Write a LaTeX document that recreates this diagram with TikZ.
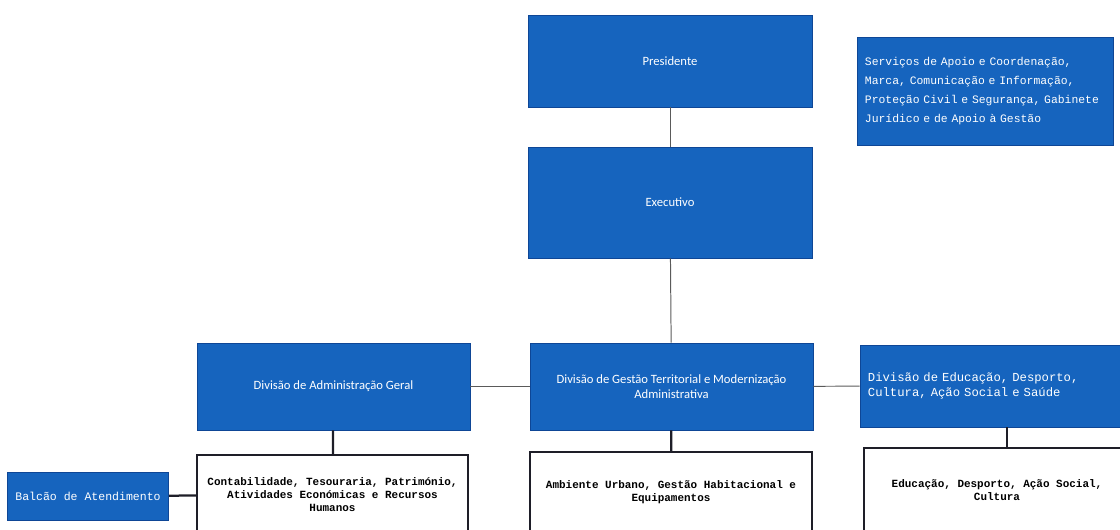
\documentclass[tikz,border=0pt]{standalone}
\usepackage{fontspec}
\setmainfont{Carlito}
\setmonofont{Liberation Mono}
\usepackage{tikz}

\definecolor{orgblue}{RGB}{22,100,190}
\definecolor{orgedge}{RGB}{14,70,150}
\definecolor{orgline}{RGB}{90,90,90}
\definecolor{orgdark}{RGB}{30,30,40}

\tikzset{
  bluebox/.style={draw=orgedge, fill=orgblue, line width=0.6pt, text=white,
    font=\fontsize{9}{11}\selectfont, align=center},
  bluemono/.style={draw=orgedge, fill=orgblue, line width=0.6pt, text=white,
    font=\ttfamily\fontsize{8.1}{13.5}\selectfont, align=left, inner xsep=0.2cm},
  whitebox/.style={draw=orgdark, fill=white, line width=1.2pt, text=black,
    font=\ttfamily\bfseries\fontsize{7.8}{9.2}\selectfont, align=center},
  thinlink/.style={draw=orgline, line width=0.7pt},
  thicklink/.style={draw=orgdark, line width=1.6pt}
}

\begin{document}
\begin{tikzpicture}[x=0.025cm, y=-0.025cm]
    \useasboundingbox (0,0) rectangle (1120,530);

    % Draw the top of the chart
    \node[bluebox, minimum width=7.1cm, minimum height=2.3cm] (pres) at (670,61) {Presidente};
    \node[bluebox, minimum width=7.1cm, minimum height=2.775cm] (exec) at (670,202.5) {Executivo};
    \node[bluemono, text width=6.0cm, minimum height=2.7cm] (serv) at (985,91)
        {Serviços de Apoio e Coordenação,\\Marca, Comunicação e Informação,\\Proteção Civil e Segurança, Gabinete\\Jurídico e de Apoio à Gestão};

    % Draw the divisions
    \node[bluebox, minimum width=6.825cm, minimum height=2.175cm] (adm) at (333.5,386.5) {Divisão de Administração Geral};
    \node[bluebox, minimum width=7.075cm, minimum height=2.175cm] (gest) at (671.5,386.5)
        {Divisão de Gestão Territorial e Modernização\\Administrativa};
    \node[bluemono, font=\ttfamily\fontsize{8.7}{10.8}\selectfont, text width=6.35cm, minimum height=2.05cm] (edu) at (995,386)
        {Divisão de Educação, Desporto,\\Cultura, Ação Social e Saúde};

    % Draw the units
    \node[whitebox, minimum width=6.775cm, minimum height=2.0cm] (cont) at (332.5,495)
        {Contabilidade, Tesouraria, Património,\\Atividades Económicas e Recursos\\Humanos};
    \node[whitebox, minimum width=7.05cm, minimum height=2.0cm] (amb) at (671,492)
        {Ambiente Urbano, Gestão Habitacional e\\Equipamentos};
    \node[whitebox, minimum width=6.65cm, minimum height=2.1cm] (educ) at (997,490)
        {Educação, Desporto, Ação Social,\\Cultura};
    \node[bluemono, font=\ttfamily\fontsize{8.2}{10}\selectfont, align=center, minimum width=4.0cm, minimum height=1.2cm] (balc) at (88,496)
        {Balcão de Atendimento};

    % Draw the connectors
    \draw[thinlink] (pres) -- (exec);
    \draw[thinlink] (exec) -- (gest);
    \draw[thinlink] (adm) -- (gest);
    \draw[thinlink] (gest) -- (edu);
    \draw[thicklink] (adm) -- (cont);
    \draw[thicklink] (gest) -- (amb);
    \draw[thicklink] ([xshift=0.25cm]educ.north) -- ([xshift=0.25cm]educ.north |- edu.south);
    \draw[thicklink] (balc) -- (cont);
\end{tikzpicture}
\end{document}
